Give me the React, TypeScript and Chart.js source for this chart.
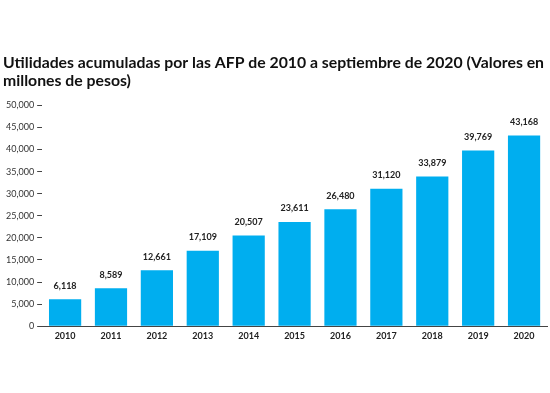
import React, { useEffect, useRef } from "react";
import { Chart, registerables } from "chart.js";

Chart.register(...registerables);

const TITLE_LINES = [
  "Utilidades acumuladas por las AFP de 2010 a septiembre de 2020 (Valores en",
  "millones de pesos)",
];
const YEARS = ["2010", "2011", "2012", "2013", "2014", "2015", "2016", "2017", "2018", "2019", "2020"];
const UTILIDADES = [6118, 8589, 12661, 17109, 20507, 23611, 26480, 31120, 33879, 39769, 43168];
const Y_MAX = 50000;
const Y_STEP = 5000;

const BAR_COLOR = "#00AEEF";

const valueLabels = {
  id: "valueLabels",
  afterDatasetsDraw(chart: any) {
    const ctx = chart.ctx;
    const meta = chart.getDatasetMeta(0);
    const data = chart.data.datasets[0].data as number[];
    ctx.save();
    ctx.font = "bold 9px Lato, 'Open Sans', sans-serif";
    ctx.fillStyle = "#222";
    ctx.textAlign = "center";
    ctx.textBaseline = "bottom";
    meta.data.forEach((bar: any, i: number) => {
      ctx.fillText(data[i].toLocaleString("en-US"), bar.x, bar.y - 9);
    });
    ctx.restore();
  },
};

export default function App() {
  const ref = useRef<HTMLCanvasElement>(null);
  useEffect(() => {
    if (!ref.current) return;
    const chart = new Chart(ref.current, {
      type: "bar",
      data: {
        labels: YEARS,
        datasets: [
          {
            data: UTILIDADES,
            backgroundColor: BAR_COLOR,
            barPercentage: 0.78,
            categoryPercentage: 0.9,
          },
        ],
      },
      plugins: [valueLabels],
      options: {
        animation: false,
        responsive: false,
        maintainAspectRatio: false,
        layout: { padding: { top: 54, left: 3, right: 3, bottom: 48 } },
        plugins: {
          legend: { display: false },
          tooltip: { enabled: false },
          title: {
            display: true,
            text: TITLE_LINES,
            align: "start",
            color: "#111",
            font: { family: "Lato, 'Open Sans', sans-serif", size: 15.8, weight: "bold", lineHeight: 1.15 },
            padding: { top: 0, bottom: 15 },
          },
        },
        scales: {
          x: {
            grid: { display: false, drawTicks: false },
            border: { display: true, color: "#444", width: 1 },
            ticks: {
              color: "#222",
              font: { family: "Lato, 'Open Sans', sans-serif", size: 9, weight: "bold" },
              padding: 4,
            },
          },
          y: {
            min: 0,
            max: Y_MAX,
            grid: { drawOnChartArea: false, drawTicks: true, tickLength: 5, color: "#444" },
            border: { display: false },
            ticks: {
              stepSize: Y_STEP,
              color: "#333",
              font: { family: "Lato, 'Open Sans', sans-serif", size: 9 },
              padding: 3,
              callback: (v: any) => Number(v).toLocaleString("en-US"),
            },
          },
        },
      },
    });
    return () => chart.destroy();
  }, []);
  return (
    <div style={{ position: "fixed", left: 0, top: 0, width: 550, height: 393, background: "#fff" }}>
      <canvas ref={ref} width={550} height={393} style={{ display: "block" }} />
    </div>
  );
}
